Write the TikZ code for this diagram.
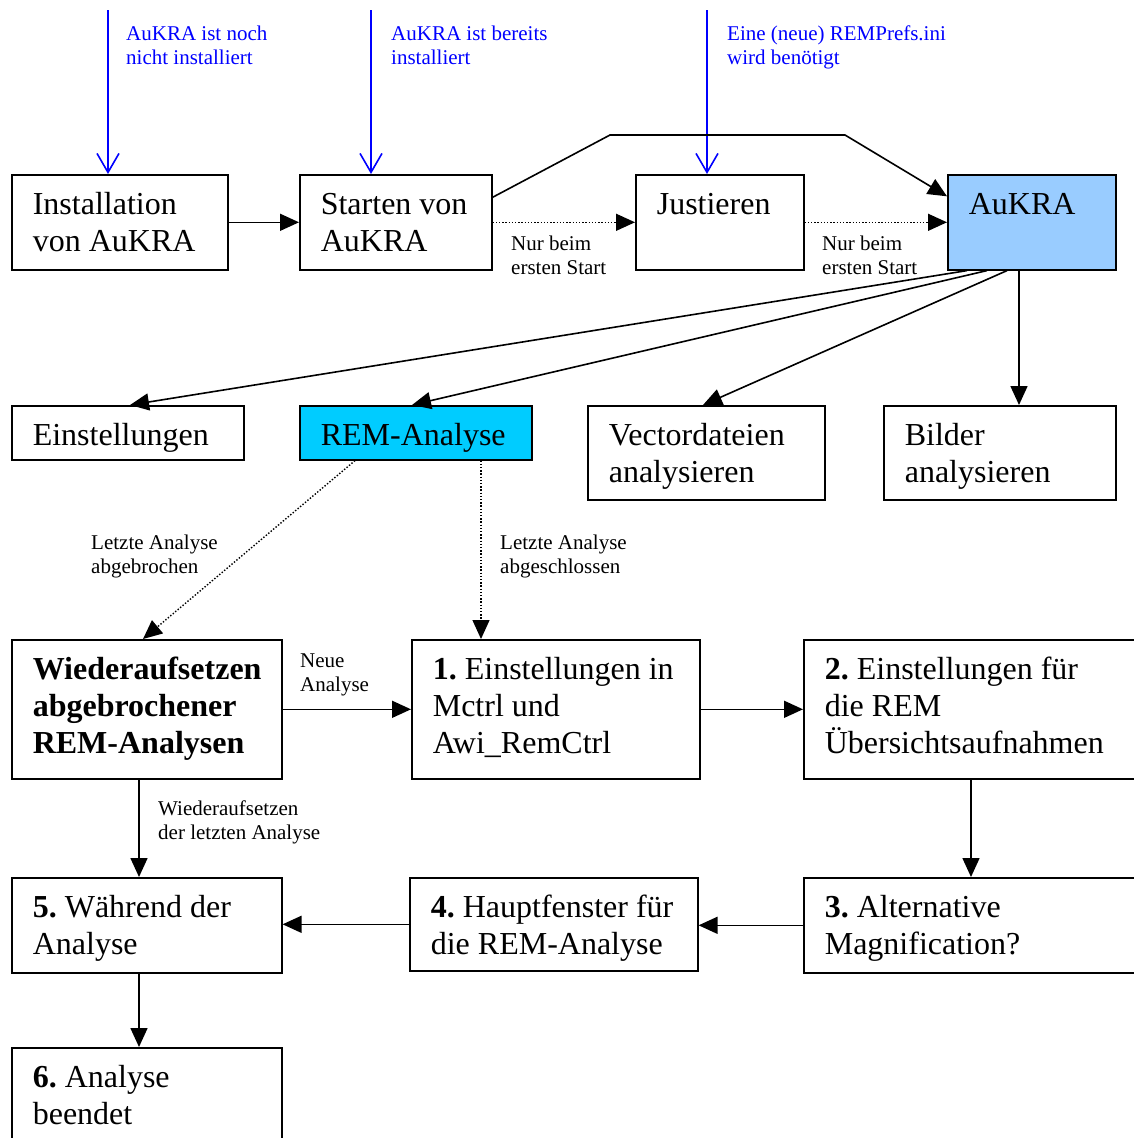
\documentclass[tikz,border=0pt]{standalone}
\usepackage{fontspec}
\setmainfont{Liberation Serif}
\usetikzlibrary{arrows.meta,calc}
\hyphenpenalty=10000
\exhyphenpenalty=10000
\frenchspacing
\begin{document}
\begin{tikzpicture}[x=1pt,y=-1pt,
  box/.style={draw, line width=1.6pt, anchor=north west, inner xsep=21pt, inner ysep=0pt,
    text height=40pt, align=left, font=\fontsize{32}{37}\selectfont,
    execute at begin node={\frenchspacing\spaceskip=0.25em\relax}},
  lbl/.style={anchor=base west, inner sep=0pt, text width=300pt, align=left,
    font=\fontsize{21}{24}\selectfont, execute at begin node={\spaceskip=0.25em\relax}},
  bluelbl/.style={lbl, text=blue},
  arr/.style={line width=1.6pt, -{Triangle[length=19pt,width=17pt]}},
  dotarr/.style={line width=1.4pt, dash pattern=on 1.4pt off 1.8pt, -{Triangle[length=19pt,width=17pt]}},
  bluearr/.style={draw=blue, line width=1.6pt, -{Straight Barb[length=19pt,width=22pt,line width=1.6pt]}}]
\useasboundingbox (0,0) rectangle (1134,1138);
\clip (0,0) rectangle (1134,1138);

% top row
\node[box, text width=174pt, text depth=55pt] (inst) at (11,174) {Installation\\von AuKRA};
\node[box, text width=150pt, text depth=55pt] (start) at (299,174) {Starten von\\AuKRA};
\node[box, text width=126pt, text depth=55pt] (just) at (635,174) {Justieren};
\node[box, text width=126pt, text depth=55pt, fill={rgb,255:red,153;green,204;blue,255}] (aukra) at (947,174) {AuKRA};

% second row
\node[box, text width=190pt, text depth=14pt] (einst) at (11,405) {Einstellungen};
\node[box, text width=190pt, text depth=14pt, fill={rgb,255:red,0;green,204;blue,255}] (rem) at (299,405) {REM-Analyse};
\node[box, text width=195pt, text depth=54pt] (vect) at (587,405) {Vectordateien\\analysieren};
\node[box, text width=190pt, text depth=54pt] (bild) at (883,405) {Bilder\\analysieren};

% third row
\node[box, text width=228pt, text depth=99pt, font=\fontsize{32}{37}\selectfont\bfseries] (wied) at (11,639) {Wiederaufsetzen\\abgebrochener\\REM-Analysen};
\node[box, text width=246pt, text depth=99pt] (b1) at (411,639) {\mbox{\textbf{1.} Einstellungen in}\\Mctrl und\\Awi\_RemCtrl};
\node[box, text width=318pt, text depth=99pt] (b2) at (803,639) {\mbox{\textbf{2.} Einstellungen für}\\die REM\\Übersichtsaufnahmen};

% fourth row
\node[box, text width=228pt, text depth=55pt] (b5) at (11,877) {\mbox{\textbf{5.} Während der}\\Analyse};
\node[box, text width=246pt, text depth=53pt] (b4) at (409,877) {\mbox{\textbf{4.} Hauptfenster für}\\\mbox{die REM-Analyse}};
\node[box, text width=318pt, text depth=55pt] (b3) at (803,877) {\textbf{3.} Alternative\\Magnification?};

% last
\node[box, text width=228pt, text depth=80pt] (b6) at (11,1047) {\textbf{6.} Analyse\\beendet};

% blue entry arrows
\coordinate (e1) at (108,10);
\coordinate (e2) at (371,10);
\coordinate (e3) at (707,10);
\draw[bluearr] (e1) -- (e1 |- inst.north);
\draw[bluearr] (e2) -- (e2 |- start.north);
\draw[bluearr] (e3) -- (e3 |- just.north);
\node[bluelbl] (t1) at (126,40) {AuKRA ist noch\\nicht installiert};
\node[bluelbl] (t2) at (391,40) {AuKRA ist bereits\\installiert};
\node[bluelbl] (t3) at (727,40) {Eine (neue) REMPrefs.ini\\wird benötigt};

% top row connectors
\draw[arr] (inst.east) -- (start.west);
\draw[dotarr] (start.east) -- (just.west);
\draw[dotarr] (just.east) -- (aukra.west);
\draw[arr] ($(start.east)+(0,-25)$) -- (610,135) -- (845,135) -- ($(aukra.west)+(0,-26)$);
\node[lbl] (n1) at (511,250) {Nur beim\\ersten Start};
\node[lbl] (n2) at (822,250) {Nur beim\\ersten Start};

% fan out from AuKRA
\draw[arr] ($(aukra.south west)+(20,0)$) -- ($(einst.north west)+(119,0)$);
\draw[arr] ($(aukra.south west)+(40,0)$) -- ($(rem.north west)+(113,0)$);
\draw[arr] ($(aukra.south west)+(60,0)$) -- ($(vect.north west)+(116,0)$);
\draw[arr] ($(aukra.south west)+(72,0)$) -- ($(bild.north west)+(136,0)$);

% from REM-Analyse
\draw[dotarr] ($(rem.south west)+(56,0)$) -- ($(wied.north west)+(132,0)$);
\draw[dotarr] ($(rem.south west)+(182,0)$) -- ($(b1.north west)+(70,0)$);
\node[lbl] (l1) at (91,549) {Letzte Analyse\\abgebrochen};
\node[lbl] (l2) at (500,549) {Letzte Analyse\\abgeschlossen};

% lower flow
\draw[arr] (wied.east) -- (b1.west);
\node[lbl] (l3) at (300,667) {Neue\\Analyse};
\draw[arr] (b1.east) -- (b2.west);
\draw[arr] ($(b2.south west)+(168,0)$) -- ($(b3.north west)+(168,0)$);
\draw[arr] (b3.west) -- (b3.west -| b4.east);
\draw[arr] (b4.west) -- (b4.west -| b5.east);
\draw[arr] ($(wied.south west)+(128,0)$) -- ($(b5.north west)+(128,0)$);
\node[lbl] (l4) at (158,815) {Wiederaufsetzen\\der letzten Analyse};
\draw[arr] ($(b5.south west)+(128,0)$) -- ($(b6.north west)+(128,0)$);
\end{tikzpicture}
\end{document}
